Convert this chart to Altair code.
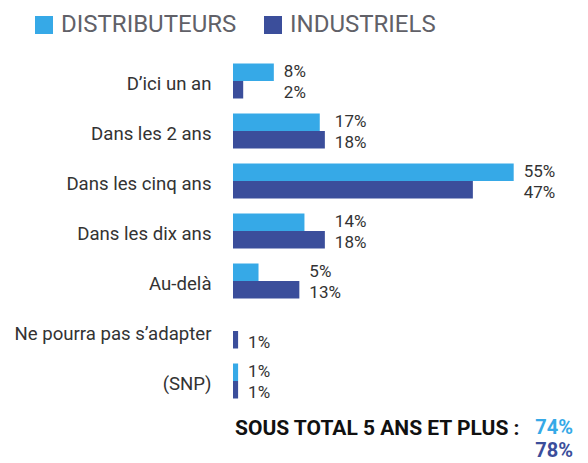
import altair as alt
import pandas as pd

categories = ["D’ici un an", "Dans les 2 ans", "Dans les cinq ans", "Dans les dix ans",
              "Au-delà", "Ne pourra pas s’adapter", "(SNP)"]
series = ["DISTRIBUTEURS", "INDUSTRIELS"]
distributeurs = [8, 17, 55, 14, 5, 0, 1]
industriels = [2, 18, 47, 18, 13, 1, 1]
subtotal_label = "SOUS TOTAL 5 ANS ET PLUS :"
subtotals = [74, 78]
colors = ["#36A9E7", "#3B4E9B"]

rows = []
for c, d, i in zip(categories, distributeurs, industriels):
    m = max(d, i)
    rows.append({"cat": c, "serie": series[0], "value": d, "pos": m, "label": f"{d}%"})
    rows.append({"cat": c, "serie": series[1], "value": i, "pos": m, "label": f"{i}%"})
df = pd.DataFrame(rows)

FONT = "Roboto"

y_enc = alt.Y("cat:N", sort=categories, title=None,
              scale=alt.Scale(paddingInner=0.3, paddingOuter=0.15),
              axis=alt.Axis(ticks=False, domain=False, labelPadding=22, labelFontSize=18.6,
                            labelFont=FONT, labelColor="#333333", labelOffset=3, labelLimit=300))
x_scale = alt.Scale(domain=[0, 67.6], nice=False, zero=True)

bars = alt.Chart(df).mark_bar().encode(
    y=y_enc,
    yOffset=alt.YOffset("serie:N", sort=series, scale=alt.Scale(paddingInner=0, paddingOuter=0)),
    x=alt.X("value:Q", scale=x_scale, axis=None),
    color=alt.Color("serie:N", sort=series,
                    scale=alt.Scale(domain=series, range=colors),
                    legend=alt.Legend(orient="none", legendX=-201, legendY=-43,
                                      direction="horizontal", title=None,
                                      symbolType="square", symbolSize=324,
                                      symbolStrokeWidth=0, symbolOpacity=1,
                                      labelFontSize=24, labelFont=FONT, labelLimit=400,
                                      labelColor="#616168", columnPadding=24,
                                      labelOffset=5, padding=0)),
)

text_base = alt.Chart(df).mark_text(
    align="left", baseline="middle", dx=10, fontSize=17, font=FONT, color="#333333"
).encode(
    y=alt.Y("cat:N", sort=categories),
    yOffset=alt.YOffset("serie:N", sort=series),
    x=alt.X("pos:Q", scale=x_scale),
    text="label:N",
)
texts_top = text_base.transform_filter(
    (alt.datum.value > 0) & (alt.datum.serie == series[0])).mark_text(
    align="left", baseline="middle", dx=10, dy=0, fontSize=17, font=FONT, color="#333333")
texts_bot = text_base.transform_filter(
    (alt.datum.value > 0) & (alt.datum.serie == series[1])).mark_text(
    align="left", baseline="middle", dx=10, dy=3, fontSize=17, font=FONT, color="#333333")

sub_text = alt.Chart(pd.DataFrame({"t": [subtotal_label]})).mark_text(
    align="left", baseline="alphabetic", fontSize=21, font=FONT, fontWeight="bold",
    color="#111111"
).encode(x=alt.value(2), y=alt.value(379), text="t:N")

sub_vals = alt.Chart(pd.DataFrame({"v": [f"{s}%" for s in subtotals], "serie": series,
                                   "yy": [378, 401]})).mark_text(
    align="right", baseline="alphabetic", fontSize=20, font=FONT, fontWeight="bold"
).encode(
    x=alt.value(340),
    y=alt.Y("yy:Q", scale=None),
    text="v:N",
    color=alt.Color("serie:N", scale=alt.Scale(domain=series, range=colors), legend=None),
)

chart = alt.layer(bars, texts_top, texts_bot, sub_text, sub_vals).properties(
    width=345, height=350,
    autosize=alt.AutoSizeParams(type="none"),
    padding={"left": 225, "top": 48, "right": 0, "bottom": 55},
).configure_view(stroke=None)

chart.save("out.html", embed_options={"renderer": "svg", "actions": False})
